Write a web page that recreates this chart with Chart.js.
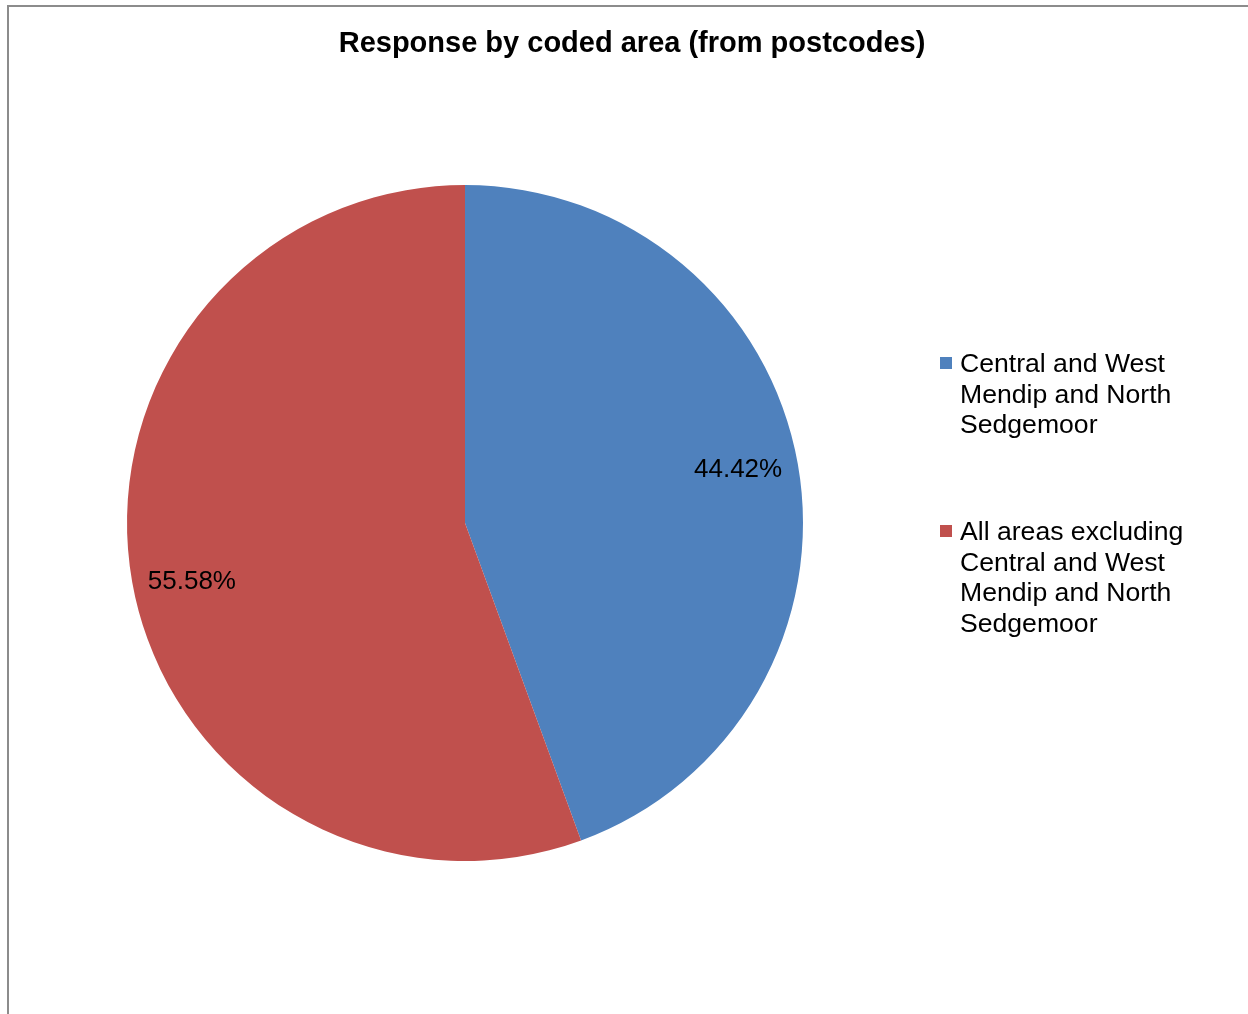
<!DOCTYPE html>
<html>
<head>
<meta charset="utf-8">
<script src="https://cdn.jsdelivr.net/npm/chart.js@4.4.1/dist/chart.umd.min.js"></script>
<style>
    html, body { margin: 0; padding: 0; background: #fff; }
    #wrap { position: relative; width: 1248px; height: 1014px; overflow: hidden; }
    #frame {
        position: absolute; left: 7px; top: 5px; width: 1300px; height: 1100px;
        border-left: 2px solid #8c8c8c; border-top: 2px solid #8c8c8c;
    }
    canvas { position: absolute; left: 0; top: 0; }
</style>
</head>
<body>
<div id="wrap">
    <div id="frame"></div>
    <canvas id="pieChart" width="1248" height="1014"></canvas>
</div>
<script>
const chartTitle = "Response by coded area (from postcodes)";
const areaLabels = [
    "Central and West Mendip and North Sedgemoor",
    "All areas excluding Central and West Mendip and North Sedgemoor"
];
const legendLines = [
    ["Central and West", "Mendip and North", "Sedgemoor"],
    ["All areas excluding", "Central and West", "Mendip and North", "Sedgemoor"]
];
const shareValues = [44.42, 55.58];
const sliceColours = ["#4f81bd", "#c0504d"];

const FONT = "'Liberation Sans', Arial, sans-serif";

// title, percentage labels and wrapped legend, drawn by hand
const extrasPlugin = {
    id: "extras",
    afterDatasetsDraw(chart) {
        const ctx = chart.ctx;
        const meta = chart.getDatasetMeta(0);
        const values = chart.data.datasets[0].data;
        ctx.save();

        ctx.fillStyle = "#000";
        ctx.font = "bold 29px " + FONT;
        ctx.textAlign = "center";
        ctx.textBaseline = "middle";
        ctx.fillText(chartTitle, 632, 44);

        ctx.font = "26px " + FONT;
        meta.data.forEach((arc, i) => {
            const p = arc.getProps(["x", "y", "startAngle", "endAngle", "outerRadius"], true);
            const mid = (p.startAngle + p.endAngle) / 2 - 0.028;
            const r = p.outerRadius * 0.825;
            // +3 so the digits sit visually centred
            ctx.fillText(values[i].toFixed(2) + "%", p.x + Math.cos(mid) * r, p.y + Math.sin(mid) * r + 3);
        });

        ctx.textAlign = "left";
        ctx.font = "26.6px " + FONT;
        const legendX = 960;
        const lineH = 30.5;
        const tops = [365, 533];
        legendLines.forEach((lines, i) => {
            ctx.fillStyle = sliceColours[i];
            ctx.fillRect(940, tops[i] - 8, 12, 12);
            ctx.fillStyle = "#000";
            lines.forEach((ln, j) => ctx.fillText(ln, legendX, tops[i] + j * lineH));
        });
        ctx.restore();
    }
};

new Chart(document.getElementById("pieChart"), {
    type: "pie",
    data: {
        labels: areaLabels,
        datasets: [{
            data: shareValues,
            backgroundColor: sliceColours,
            borderWidth: 0,
        }],
    },
    options: {
        responsive: false,
        animation: false,
        layout: { padding: { left: 127, right: 445, top: 185, bottom: 153 } },
        plugins: {
            legend: { display: false },
            tooltip: { enabled: false },
            title: { display: false },
        },
    },
    plugins: [extrasPlugin],
});
</script>
</body>
</html>
